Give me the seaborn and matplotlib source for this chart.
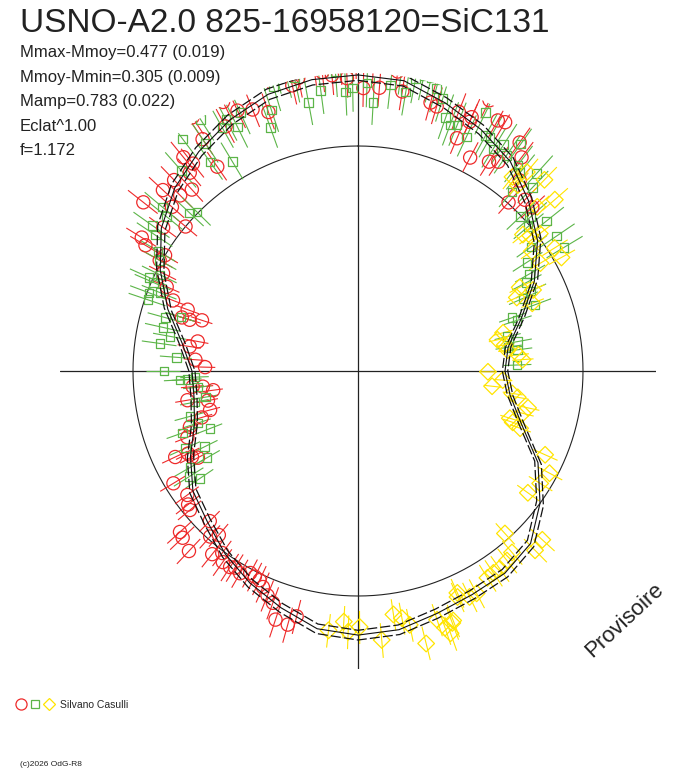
import numpy as np
import pandas as pd
import matplotlib
matplotlib.use("Agg")
import matplotlib.pyplot as plt
import seaborn as sns
from matplotlib.lines import Line2D
from matplotlib.legend_handler import HandlerTuple

# texts
title = "USNO-A2.0 825-16958120=SiC131"
stats = ["Mmax-Mmoy=0.477 (0.019)", "Mmoy-Mmin=0.305 (0.009)",
         "Mamp=0.783 (0.022)", "Eclat^1.00", "f=1.172"]
observer = "Silvano Casulli"
copyright_txt = "(c)2026 OdG-R8"
stamp = "Provisoire"

# mean light curve (phase, magnitude relative to mean), band +/- curve_err
curve_phase = [0.000, 0.025, 0.050, 0.075, 0.100, 0.125, 0.150, 0.175, 0.200, 0.225,
               0.250, 0.275, 0.300, 0.325, 0.350, 0.375, 0.400, 0.425, 0.450, 0.475,
               0.500, 0.525, 0.550, 0.575, 0.600, 0.625, 0.650, 0.675, 0.700, 0.725,
               0.750, 0.775, 0.800, 0.825, 0.850, 0.875, 0.900, 0.925, 0.950, 0.975]
curve_dmag = [-0.298, -0.290, -0.245, -0.202, -0.153, -0.075, 0.015, 0.139, 0.292, 0.426,
              0.462, 0.412, 0.292, 0.117, 0.000, -0.088, -0.114, -0.119, -0.136, -0.165,
              -0.174, -0.161, -0.110, -0.061, -0.005, 0.059, 0.106, 0.195, 0.292, 0.330,
              0.330, 0.254, 0.128, 0.015, -0.084, -0.153, -0.202, -0.245, -0.279, -0.294]
curve_err = 0.02

# observations: red circles
red_phase = [0.539, 0.543, 0.551, 0.556, 0.561, 0.566, 0.570, 0.574, 0.578, 0.584,
             0.589, 0.592, 0.598, 0.602, 0.607, 0.612, 0.616, 0.620, 0.624, 0.629,
             0.633, 0.640, 0.644, 0.650, 0.663, 0.671, 0.674, 0.678, 0.680, 0.691,
             0.699, 0.704, 0.709, 0.719, 0.723, 0.729, 0.734, 0.735, 0.754, 0.761,
             0.773, 0.779, 0.797, 0.797, 0.800, 0.805, 0.808, 0.816, 0.824, 0.831,
             0.835, 0.836, 0.838, 0.851, 0.856, 0.861, 0.865, 0.869, 0.874, 0.878,
             0.882, 0.888, 0.891, 0.893, 0.904, 0.906, 0.908, 0.921, 0.926, 0.931,
             0.939, 0.947, 0.951, 0.964, 0.968, 0.977, 0.981, 0.986, 0.991, 0.994,
             0.999, 0.003, 0.008, 0.012, 0.016, 0.021, 0.025, 0.042, 0.046, 0.059,
             0.064, 0.067, 0.067, 0.072, 0.077, 0.081, 0.085, 0.089, 0.094, 0.098,
             0.104, 0.112, 0.116, 0.123, 0.130]
red_dmag = [-0.127, -0.170, -0.165, -0.101, -0.079, -0.052, -0.029, -0.024, -0.019, -0.043,
            -0.033, -0.043, -0.043, -0.010, -0.043, 0.049, 0.015, -0.101, 0.070, -0.079,
            -0.070, 0.034, 0.044, 0.070, 0.044, 0.230, 0.201, 0.190, 0.117, 0.224,
            0.260, 0.350, 0.419, 0.419, 0.285, 0.469, 0.398, 0.330, 0.419, 0.350,
            0.304, 0.350, 0.267, 0.218, 0.343, 0.236, 0.139, 0.080, 0.034, -0.010,
            -0.101, 0.000, -0.132, -0.079, -0.210, 0.000, -0.106, -0.182, -0.114, -0.178,
            -0.097, -0.157, -0.222, -0.178, -0.106, -0.234, -0.323, -0.230, -0.316, -0.264,
            -0.245, -0.214, -0.372, -0.287, -0.309, -0.344, -0.316, -0.301, -0.337, -0.287,
            -0.358, -0.249, -0.341, -0.253, -0.386, -0.320, -0.249, -0.230, -0.222, -0.230,
            -0.127, -0.230, -0.210, -0.316, -0.075, -0.264, -0.272, -0.101, -0.123, -0.237,
            -0.194, -0.114, -0.005, -0.066, -0.066]
red_err = 0.075

# observations: green squares
green_phase = [0.655, 0.661, 0.667, 0.667, 0.677, 0.683, 0.691, 0.696, 0.700, 0.708,
               0.720, 0.723, 0.734, 0.742, 0.742, 0.744, 0.750, 0.762, 0.772, 0.779,
               0.785, 0.793, 0.797, 0.802, 0.807, 0.810, 0.815, 0.817, 0.822, 0.831,
               0.836, 0.844, 0.848, 0.858, 0.861, 0.870, 0.874, 0.885, 0.897, 0.902,
               0.906, 0.911, 0.914, 0.919, 0.923, 0.927, 0.932, 0.945, 0.949, 0.954,
               0.957, 0.962, 0.966, 0.971, 0.979, 0.984, 0.988, 0.993, 0.997, 0.005,
               0.009, 0.018, 0.023, 0.027, 0.031, 0.035, 0.039, 0.043, 0.048, 0.053,
               0.057, 0.061, 0.069, 0.073, 0.079, 0.082, 0.087, 0.091, 0.096, 0.099,
               0.105, 0.109, 0.113, 0.117, 0.121, 0.129, 0.134, 0.138, 0.143, 0.151,
               0.155, 0.159, 0.164, 0.168, 0.173, 0.181, 0.184, 0.193, 0.197, 0.201,
               0.214, 0.221, 0.225, 0.229, 0.244]
green_dmag = [0.178, 0.133, 0.161, 0.279, 0.298, 0.190, 0.377, 0.207, 0.311, 0.279,
              0.330, 0.405, 0.363, 0.254, 0.298, 0.350, 0.161, 0.230, 0.128, 0.178,
              0.128, 0.128, 0.213, 0.015, 0.010, 0.059, 0.010, -0.019, 0.024, -0.010,
              -0.038, -0.088, -0.123, -0.097, -0.136, -0.029, -0.005, -0.186, -0.279, -0.140,
              -0.214, -0.301, -0.088, -0.234, -0.253, -0.206, -0.253, -0.153, -0.218, -0.298,
              -0.362, -0.337, -0.312, -0.210, -0.249, -0.393, -0.312, -0.234, -0.249, -0.268,
              -0.194, -0.268, -0.330, -0.249, -0.305, -0.323, -0.320, -0.287, -0.257, -0.190,
              -0.169, -0.178, -0.149, -0.268, -0.190, -0.190, -0.157, -0.194, -0.165, -0.234,
              -0.161, -0.140, -0.052, -0.182, -0.127, 0.005, -0.033, 0.010, -0.075, 0.059,
              -0.070, 0.123, -0.070, 0.144, 0.184, 0.184, 0.242, 0.190, 0.350, 0.324,
              0.419, 0.357, 0.426, 0.363, 0.377]
green_err = 0.095

# observations: yellow diamonds
yellow_phase = [0.107, 0.112, 0.113, 0.123, 0.132, 0.136, 0.140, 0.144, 0.147, 0.154,
                0.161, 0.165, 0.169, 0.174, 0.181, 0.181, 0.191, 0.209, 0.215, 0.222,
                0.228, 0.234, 0.239, 0.251, 0.260, 0.268, 0.273, 0.276, 0.284, 0.290,
                0.298, 0.301, 0.304, 0.317, 0.328, 0.338, 0.349, 0.368, 0.376, 0.383,
                0.388, 0.394, 0.401, 0.406, 0.411, 0.422, 0.427, 0.433, 0.434, 0.442,
                0.443, 0.446, 0.448, 0.451, 0.461, 0.468, 0.472, 0.477, 0.486, 0.499,
                0.506, 0.509, 0.518]
yellow_dmag = [-0.106, -0.161, -0.093, -0.186, -0.084, -0.161, 0.054, 0.029, -0.014, 0.070,
               -0.033, 0.065, -0.038, 0.230, 0.167, 0.273, 0.201, 0.440, 0.492, 0.447,
               0.433, 0.363, 0.337, 0.596, 0.477, 0.555, 0.398, 0.357, 0.279, 0.304,
               0.377, 0.350, 0.292, 0.101, 0.039, 0.054, 0.080, -0.114, -0.123, 0.029,
               -0.061, -0.075, -0.084, -0.084, -0.088, -0.123, -0.123, -0.084, -0.101, -0.186,
               -0.194, -0.230, -0.202, -0.161, -0.241, -0.153, -0.119, -0.097, -0.198, -0.140,
               -0.161, -0.119, -0.161]
yellow_err = 0.07

RED, GREEN, YELLOW = "#ee2a2a", "#5cb548", "#ffe400"
INK = "#222222"
EXPO = 1.00          # Eclat^1.00 : radius = flux ** EXPO
RMAX = 298 / 225     # axis cross half-length relative to mean circle


def radius(dmag):
    return (10 ** (-0.4 * np.asarray(dmag, dtype=float))) ** EXPO


def theta(phase):
    return 2 * np.pi * np.asarray(phase, dtype=float)


sns.set_style("white")
plt.rcParams["font.family"] = ["Liberation Sans", "DejaVu Sans"]

fig = plt.figure(figsize=(6.88, 7.68), dpi=100)
ax = fig.add_axes([60 / 688, 99 / 768, 596 / 688, 596 / 768], projection="polar")
ax.set_theta_zero_location("N")
ax.set_theta_direction(-1)

# cross and mean-magnitude circle
for q in [0.0, 0.25, 0.5, 0.75]:
    ax.plot([theta(q)] * 2, [0, RMAX], color=INK, lw=0.9, zorder=1)
circ = np.linspace(0, 2 * np.pi, 361)
ax.plot(circ, np.ones_like(circ), color=INK, lw=0.8, zorder=1)

# observations with radial error bars
series = [
    (red_phase, red_dmag, red_err, RED, "o", 90),
    (green_phase, green_dmag, green_err, GREEN, "s", 38),
    (yellow_phase, yellow_dmag, yellow_err, YELLOW, "D", 72),
]
for ph, dm, err, col, mk, size in series:
    dm = np.asarray(dm)
    ax.vlines(theta(ph), radius(dm + err), radius(dm - err), colors=col, lw=0.8, zorder=2)
    pts = pd.DataFrame({"theta": theta(ph), "r": radius(dm)})
    sns.scatterplot(data=pts, x="theta", y="r", ax=ax, marker=mk, s=size,
                    facecolor="none", edgecolor=col, linewidth=0.9, zorder=3)

# fitted curve and its band
cph = list(curve_phase) + [1.0]
cdm = np.asarray(list(curve_dmag) + [curve_dmag[0]])
for off, style, lw in [(0.0, "-", 0.8), (-curve_err, (0, (8, 2.5)), 0.9), (curve_err, (0, (8, 2.5)), 0.9)]:
    cdf = pd.DataFrame({"theta": theta(cph), "r": radius(cdm + off)})
    sns.lineplot(data=cdf, x="theta", y="r", ax=ax, sort=False, color="#111111",
                 lw=lw, linestyle=style, zorder=4)

ax.set_rlim(0, RMAX)
ax.grid(False)
ax.set_xticks([])
ax.set_yticks([])
ax.set_xlabel("")
ax.set_ylabel("")
ax.spines["polar"].set_visible(False)
ax.patch.set_alpha(0)

# texts
fig.text(20 / 688, 1 - 32 / 768, title, fontsize=24, color=INK, va="baseline")
for i, s in enumerate(stats):
    fig.text(20 / 688, 1 - (57 + 24.6 * i) / 768, s, fontsize=12, color=INK, va="baseline")
fig.text(624 / 688, 1 - 620 / 768, stamp, fontsize=16, color=INK, rotation=43,
         ha="center", va="center")
fig.text(20 / 688, 1 - 766 / 768, copyright_txt, fontsize=6, color=INK, va="baseline")

handles = tuple(Line2D([], [], ls="none", marker=m, mfc="none", mec=c, mew=0.9, ms=ms)
                for m, c, ms in [("o", RED, 8), ("s", GREEN, 6), ("D", YELLOW, 6.5)])
fig.legend([handles], [observer], handler_map={tuple: HandlerTuple(ndivide=None, pad=0.6)},
           loc="center left", bbox_to_anchor=(17 / 688, 1 - 705 / 768), frameon=False,
           fontsize=7.5, handlelength=3.4, handletextpad=0.7, borderpad=0, borderaxespad=0)

fig.savefig("out.png", dpi=100)
